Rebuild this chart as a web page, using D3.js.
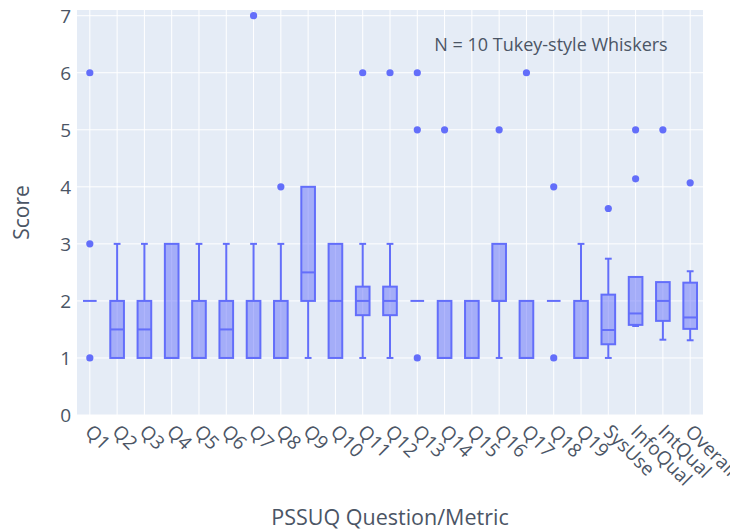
<!DOCTYPE html>
<html>
<head>
<meta charset="utf-8">
<script src="https://cdn.jsdelivr.net/npm/d3@7"></script>
<style>
  body { margin: 0; background: #fff; }
  text { font-family: "Open Sans", "Liberation Sans", Arial, sans-serif; fill: #4b5565; }
</style>
</head>
<body>
<svg class="chart"></svg>
<script>
var categories = ["Q1", "Q2", "Q3", "Q4", "Q5", "Q6", "Q7", "Q8", "Q9", "Q10",
    "Q11", "Q12", "Q13", "Q14", "Q15", "Q16", "Q17", "Q18", "Q19",
    "SysUse", "InfoQual", "IntQual", "Overall"];
var q1 =         [2, 1,   1,   1, 1, 1,   1, 1, 2,   1, 1.75, 1.75, 2, 1, 1, 2, 1, 2, 1, 1.24, 1.58, 1.65, 1.51];
var median =     [2, 1.5, 1.5, 1, 1, 1.5, 1, 1, 2.5, 2, 2,    2,    2, 1, 1, 2, 1, 2, 1, 1.49, 1.78, 2.0,  1.71];
var q3 =         [2, 2,   2,   3, 2, 2,   2, 2, 4,   3, 2.25, 2.25, 2, 2, 2, 3, 2, 2, 2, 2.11, 2.42, 2.33, 2.32];
var lowerFence = [2, 1,   1,   1, 1, 1,   1, 1, 1,   1, 1,    1,    2, 1, 1, 1, 1, 2, 1, 1,    1.56, 1.32, 1.31];
var upperFence = [2, 3,   3,   3, 3, 3,   3, 3, 4,   3, 3,    3,    2, 2, 2, 3, 2, 2, 3, 2.74, 2.42, 2.33, 2.52];
var outliers = [[1, 3, 6], [], [], [], [], [], [7], [4], [], [], [6], [6], [1, 5, 6], [5], [], [5], [6], [1, 4], [],
    [3.62], [4.14, 5], [5], [4.07]];
var yTicks = [0, 1, 2, 3, 4, 5, 6, 7];

function show() {
    'use strict';
    var margin = {top: 10, bottom: 115, right: 27, left: 77},
        width = 730 - margin.left - margin.right,
        height = 530 - margin.top - margin.bottom;

    var color = "#636efa";

    var svg = d3.select(".chart")
        .attr("width", width + margin.left + margin.right)
        .attr("height", height + margin.top + margin.bottom);
    var g = svg.append("g")
        .attr("transform", "translate(" + margin.left + "," + margin.top + ")");

    var x = d3.scaleLinear()
        .domain([-0.47, categories.length - 1 + 0.47])
        .range([0, width]);
    var y = d3.scaleLinear().domain([0, 7.1]).range([height, 0]);

    var step = x(1) - x(0);
    var boxW = step * 0.5;
    var capW = boxW * 0.5;

    g.append("rect")
        .attr("width", width)
        .attr("height", height)
        .attr("fill", "#e5ecf6");

    // grid
    g.selectAll(".vgrid").data(categories).enter().append("line")
        .attr("x1", function(d, i) { return x(i); })
        .attr("x2", function(d, i) { return x(i); })
        .attr("y1", 0).attr("y2", height)
        .attr("stroke", "#fff").attr("stroke-width", 1);
    g.selectAll(".hgrid").data(yTicks).enter().append("line")
        .attr("x1", 0).attr("x2", width)
        .attr("y1", function(d) { return y(d); })
        .attr("y2", function(d) { return y(d); })
        .attr("stroke", "#fff").attr("stroke-width", 1);

    // y tick labels
    g.selectAll(".ylab").data(yTicks).enter().append("text")
        .attr("x", -6)
        .attr("y", function(d) { return y(d); })
        .attr("dy", "0.36em")
        .attr("text-anchor", "end")
        .style("font-size", "19px")
        .text(function(d) { return d; });

    // x tick labels, rotated
    g.selectAll(".xlab").data(categories).enter().append("text")
        .attr("transform", function(d, i) { return "translate(" + (x(i) - 1) + "," + (height + 13) + ") rotate(45)"; })
        .attr("dy", "0.36em")
        .attr("text-anchor", "start")
        .style("font-size", "19px")
        .text(function(d) { return d; });

    // boxes
    var boxes = g.selectAll(".box").data(categories).enter().append("g")
        .attr("transform", function(d, i) { return "translate(" + x(i) + ",0)"; });

    boxes.append("line")
        .attr("x1", 0).attr("x2", 0)
        .attr("y1", function(d, i) { return y(upperFence[i]); })
        .attr("y2", function(d, i) { return y(q3[i]); })
        .attr("stroke", color).attr("stroke-width", 2);
    boxes.append("line")
        .attr("x1", 0).attr("x2", 0)
        .attr("y1", function(d, i) { return y(q1[i]); })
        .attr("y2", function(d, i) { return y(lowerFence[i]); })
        .attr("stroke", color).attr("stroke-width", 2);
    boxes.append("line")
        .attr("x1", -capW / 2).attr("x2", capW / 2)
        .attr("y1", function(d, i) { return y(upperFence[i]); })
        .attr("y2", function(d, i) { return y(upperFence[i]); })
        .attr("stroke", color).attr("stroke-width", 2)
        .style("display", function(d, i) { return upperFence[i] > q3[i] ? null : "none"; });
    boxes.append("line")
        .attr("x1", -capW / 2).attr("x2", capW / 2)
        .attr("y1", function(d, i) { return y(lowerFence[i]); })
        .attr("y2", function(d, i) { return y(lowerFence[i]); })
        .attr("stroke", color).attr("stroke-width", 2)
        .style("display", function(d, i) { return lowerFence[i] < q1[i] ? null : "none"; });

    boxes.append("rect")
        .attr("x", -boxW / 2)
        .attr("width", boxW)
        .attr("y", function(d, i) { return y(q3[i]); })
        .attr("height", function(d, i) { return y(q1[i]) - y(q3[i]); })
        .attr("fill", color).attr("fill-opacity", 0.5)
        .attr("stroke", color).attr("stroke-width", 2);
    boxes.append("line")
        .attr("x1", -boxW / 2).attr("x2", boxW / 2)
        .attr("y1", function(d, i) { return y(median[i]); })
        .attr("y2", function(d, i) { return y(median[i]); })
        .attr("stroke", color).attr("stroke-width", 2);

    boxes.selectAll("circle")
        .data(function(d, i) { return outliers[i]; })
        .enter().append("circle")
        .attr("cx", 0)
        .attr("cy", function(v) { return y(v); })
        .attr("r", 3.6)
        .attr("fill", color);

    // annotation
    g.append("text")
        .attr("x", 474)
        .attr("y", 35)
        .attr("dy", "0.36em")
        .attr("text-anchor", "middle")
        .style("font-size", "18px")
        .text("N = 10 Tukey-style Whiskers");

    // axis titles
    svg.append("text")
        .attr("x", margin.left + width / 2)
        .attr("y", 525)
        .attr("text-anchor", "middle")
        .style("font-size", "21.5px")
        .text("PSSUQ Question/Metric");
    svg.append("text")
        .attr("transform", "translate(29," + (margin.top + height / 2) + ") rotate(-90)")
        .attr("text-anchor", "middle")
        .style("font-size", "21px")
        .text("Score");
}
show();
</script>
</body>
</html>
